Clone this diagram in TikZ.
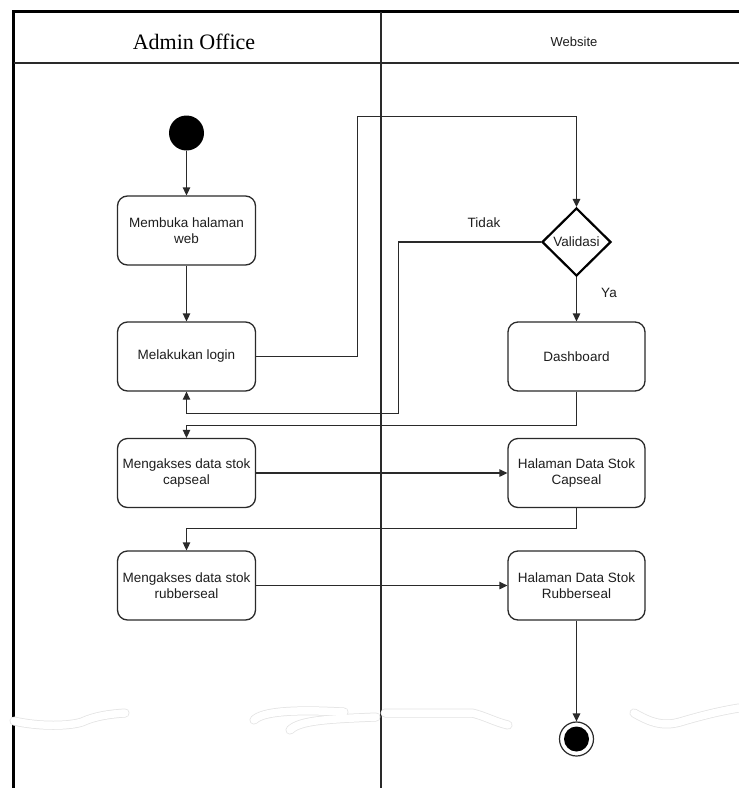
\documentclass[tikz,border=0pt]{standalone}
\usepackage{fontspec}
\setmainfont{Liberation Sans}
\newfontfamily\serifttl{Liberation Serif}
\usetikzlibrary{shapes.geometric,arrows.meta,calc}
\definecolor{ln}{HTML}{2A2A2A}
\definecolor{tx}{HTML}{1E1E1E}
\tikzset{
  x=1pt,y=-1pt,
  actbox/.style={draw=ln,line width=1.3pt,rounded corners=10pt,minimum width=138pt,minimum height=69pt,align=center,inner sep=2pt,font=\fontsize{13.5}{16.5}\selectfont,text=tx},
  arr/.style={draw=ln,line width=1.3pt,-{Triangle[length=8pt,width=7.5pt]}},
  lbl/.style={font=\fontsize{13.5}{16.5}\selectfont,text=tx},
  startc/.style={circle,fill=black,minimum size=35pt,inner sep=0pt},
  endc/.style={circle,draw=ln,line width=1.2pt,minimum size=34pt,inner sep=0pt,
    path picture={\fill[black] (path picture bounding box.center) circle (12.5pt);}},
  decide/.style={diamond,draw=black,line width=2.2pt,minimum width=69pt,minimum height=68pt,inner sep=0pt,font=\fontsize{13.5}{16.5}\selectfont,text=tx},
  smudge/.style={line cap=round,line join=round},
}
\begin{document}
\begin{tikzpicture}
\useasboundingbox (0,0) rectangle (739,788);
\fill[white] (0,0) rectangle (739,788);
% lanes
\draw[black,line width=3.5pt] (13.5,788) -- (13.5,11.5) -- (739,11.5);
\draw[ln,line width=1.2pt] (13.5,63) -- (739,63);
\draw[ln,line width=1.3pt] (381,11.5) -- (381,788);
\node[font=\serifttl\fontsize{22}{25}\selectfont,text=black] (h1) at (194,42) {Admin Office};
\node[font=\fontsize{13}{15}\selectfont,text=tx] (h2) at (574,42) {Website};
% nodes
\node[startc] (start) at (186.5,133) {};
\node[actbox] (b1) at (186.5,230.5) {Membuka halaman\\web};
\node[actbox] (b2) at (186.5,356.5) {Melakukan login};
\node[actbox] (b3) at (186.5,473) {Mengakses data stok\\capseal};
\node[actbox] (b4) at (186.5,585.5) {Mengakses data stok\\rubberseal};
\node[decide] (dia) at (576.5,242) {Validasi};
\node[actbox,minimum width=137pt] (r1) at (576.5,356.5) {Dashboard};
\node[actbox,minimum width=137pt] (r2) at (576.5,473) {Halaman Data Stok\\Capseal};
\node[actbox,minimum width=137pt] (r3) at (576.5,585.5) {Halaman Data Stok\\Rubberseal};
\node[endc] (end) at (576.5,739) {};
\coordinate (c1) at (357.5,116.5);
\coordinate (c2) at (398.5,413.5);
\coordinate (c3) at (186.5,425.5);
\coordinate (c4) at (186.5,528.5);
% connectors
\draw[arr] (start) -- (b1);
\draw[arr] (b1) -- (b2);
\draw[arr] (b2.east) -| (c1) -| (dia.north);
\draw[arr] (dia.west) -| (c2) -| (b2.south);
\node[lbl] (tidak) at (484,223) {Tidak};
\draw[arr] (dia.south) -- (r1.north);
\node[lbl] (ya) at (609,293) {Ya};
\draw[arr] (r1.south) |- (c3) -- (b3.north);
\draw[arr] (b3.east) -- (r2.west);
\draw[arr] (r2.south) |- (c4) -- (b4.north);
\draw[arr] (b4.east) -- (r3.west);
\draw[arr] (r3.south) -- (end.north);
% faint smudges
\foreach \w/\c in {9pt/gray!22,7.5pt/white}{
  \draw[smudge,line width=\w,\c] (14,721) .. controls (40,727) and (70,726) .. (82,722) .. controls (95,716) and (110,714) .. (125,713);
  \draw[smudge,line width=\w,\c] (254,720) .. controls (262,712) and (290,709) .. (344,712);
  \draw[smudge,line width=\w,\c] (290,730) .. controls (300,720) and (330,719) .. (376,717);
  \draw[smudge,line width=\w,\c] (385,713) -- (472,713) .. controls (485,716) and (495,722) .. (508,725);
  \draw[smudge,line width=\w,\c] (634,713) .. controls (650,722) and (662,727) .. (680,722) .. controls (700,716) and (720,711) .. (739,708);
}
\end{tikzpicture}
\end{document}
